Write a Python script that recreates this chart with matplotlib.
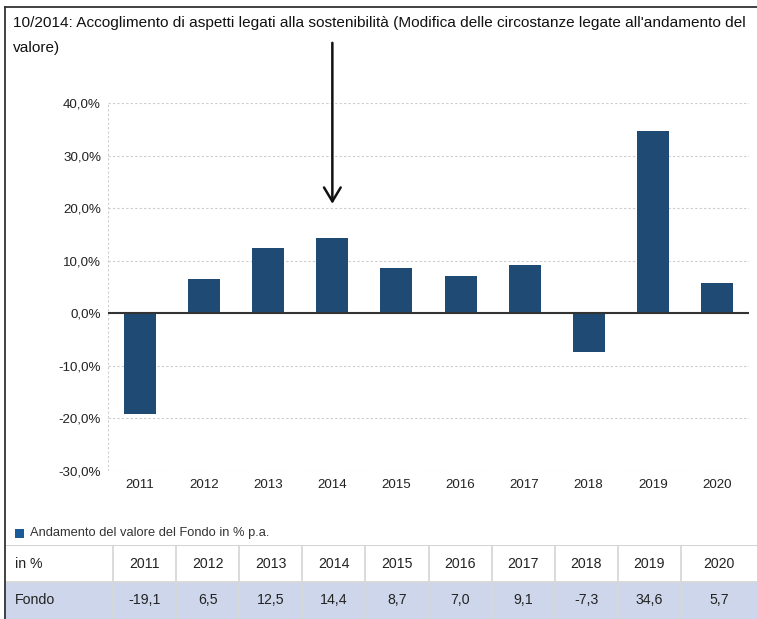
import matplotlib.pyplot as plt
from matplotlib.patches import Rectangle
from matplotlib.lines import Line2D

plt.rcParams['font.family'] = ['Liberation Sans', 'DejaVu Sans']

years = ['2011', '2012', '2013', '2014', '2015', '2016', '2017', '2018', '2019', '2020']
fondo = [-19.1, 6.5, 12.5, 14.4, 8.7, 7.0, 9.1, -7.3, 34.6, 5.7]
yticks = [-30, -20, -10, 0, 10, 20, 30, 40]
title_lines = ["10/2014: Accoglimento di aspetti legati alla sostenibilità (Modifica delle circostanze legate all'andamento del",
               "valore)"]
legend_label = 'Andamento del valore del Fondo in % p.a.'
row_labels = ['in %', 'Fondo']

bar_color = '#1f4a74'
W, H = 757, 619

fig = plt.figure(figsize=(W / 100, H / 100), dpi=100)

# frame lines (top and left)
fig.add_artist(Line2D([5 / W, 1], [1 - 7 / H, 1 - 7 / H], color='#333333', lw=1.3))
fig.add_artist(Line2D([5 / W, 5 / W], [0, 1 - 7 / H], color='#333333', lw=1.3))

for i, line in enumerate(title_lines):
    fig.text(13 / W, 1 - (23 + 25 * i) / H, line, fontsize=11.1, va='center', ha='left', color='#111111')

# main chart
ax = fig.add_axes([108 / W, 1 - 471 / H, (749 - 108) / W, (471 - 103) / H])
x = list(range(len(years)))
ax.bar(x, fondo, width=0.5, color=bar_color, zorder=3)
ax.set_xlim(-0.5, len(years) - 0.5)
ax.set_ylim(-30, 40)
ax.set_yticks(yticks)
ax.yaxis.set_major_formatter(plt.FuncFormatter(lambda v, p: ('%.1f%%' % v).replace('.', ',')))
ax.set_xticks(x)
ax.set_xticklabels(years)
ax.tick_params(length=0, labelsize=9.6, colors='#222222', pad=5)
ax.tick_params(axis='x', pad=6)
ax.grid(axis='y', color='#cccccc', ls=(0, (2, 2)), lw=0.8, zorder=0)
for s in ax.spines.values():
    s.set_visible(False)
ax.axvline(-0.5, color='#cccccc', ls=(0, (2, 2)), lw=0.8, zorder=0)
ax.axhline(0, color='#333333', lw=1.5, zorder=4)

# hand drawn arrow pointing to 2014
ax.annotate('', xy=(years.index('2014'), 20.3), xycoords='data',
            xytext=(years.index('2014'), 1.171), textcoords=ax.get_xaxis_transform(),
            arrowprops=dict(arrowstyle='->,head_length=1.0,head_width=0.6', color='#111111', lw=1.8),
            annotation_clip=False)

# legend
fig.add_artist(Rectangle((15 / W, 1 - 538 / H), 9 / W, 9 / H, facecolor='#1a5a99', edgecolor='none'))
fig.text(30 / W, 1 - 533 / H, legend_label, fontsize=9.3, va='center', ha='left', color='#333333')

# table
tab = fig.add_axes([5 / W, 0, (W - 5) / W, (619 - 545) / H])
tab.set_xlim(5, W)
tab.set_ylim(0, 2)
tab.axis('off')
edges = [5, 113] + [113 + 63.1 * (i + 1) for i in range(9)] + [W]
rows = [(row_labels[0], years, 'white'), (row_labels[1], [('%.1f' % v).replace('.', ',') for v in fondo], '#cdd6ea')]
for r, (label, vals, bg) in enumerate(rows):
    y0 = 1 - r
    tab.add_patch(Rectangle((5, y0), W - 5, 1, facecolor=bg, edgecolor='none'))
    tab.text(15, y0 + 0.5, label, fontsize=10.2, va='center', ha='left', color='#222222')
    for i, v in enumerate(vals):
        cx = (edges[i + 1] + edges[i + 2]) / 2
        tab.text(cx, y0 + 0.5, v, fontsize=10.2, va='center', ha='center', color='#222222')
for e in edges[1:-1]:
    tab.plot([e, e], [0, 2], color='#d8d8d8', lw=1.3)
tab.plot([5, W], [2, 2], color='#d4d4d4', lw=1.5)
tab.plot([5, W], [1, 1], color='#d8d8d8', lw=1.3)

fig.savefig('out.png', dpi=100)
